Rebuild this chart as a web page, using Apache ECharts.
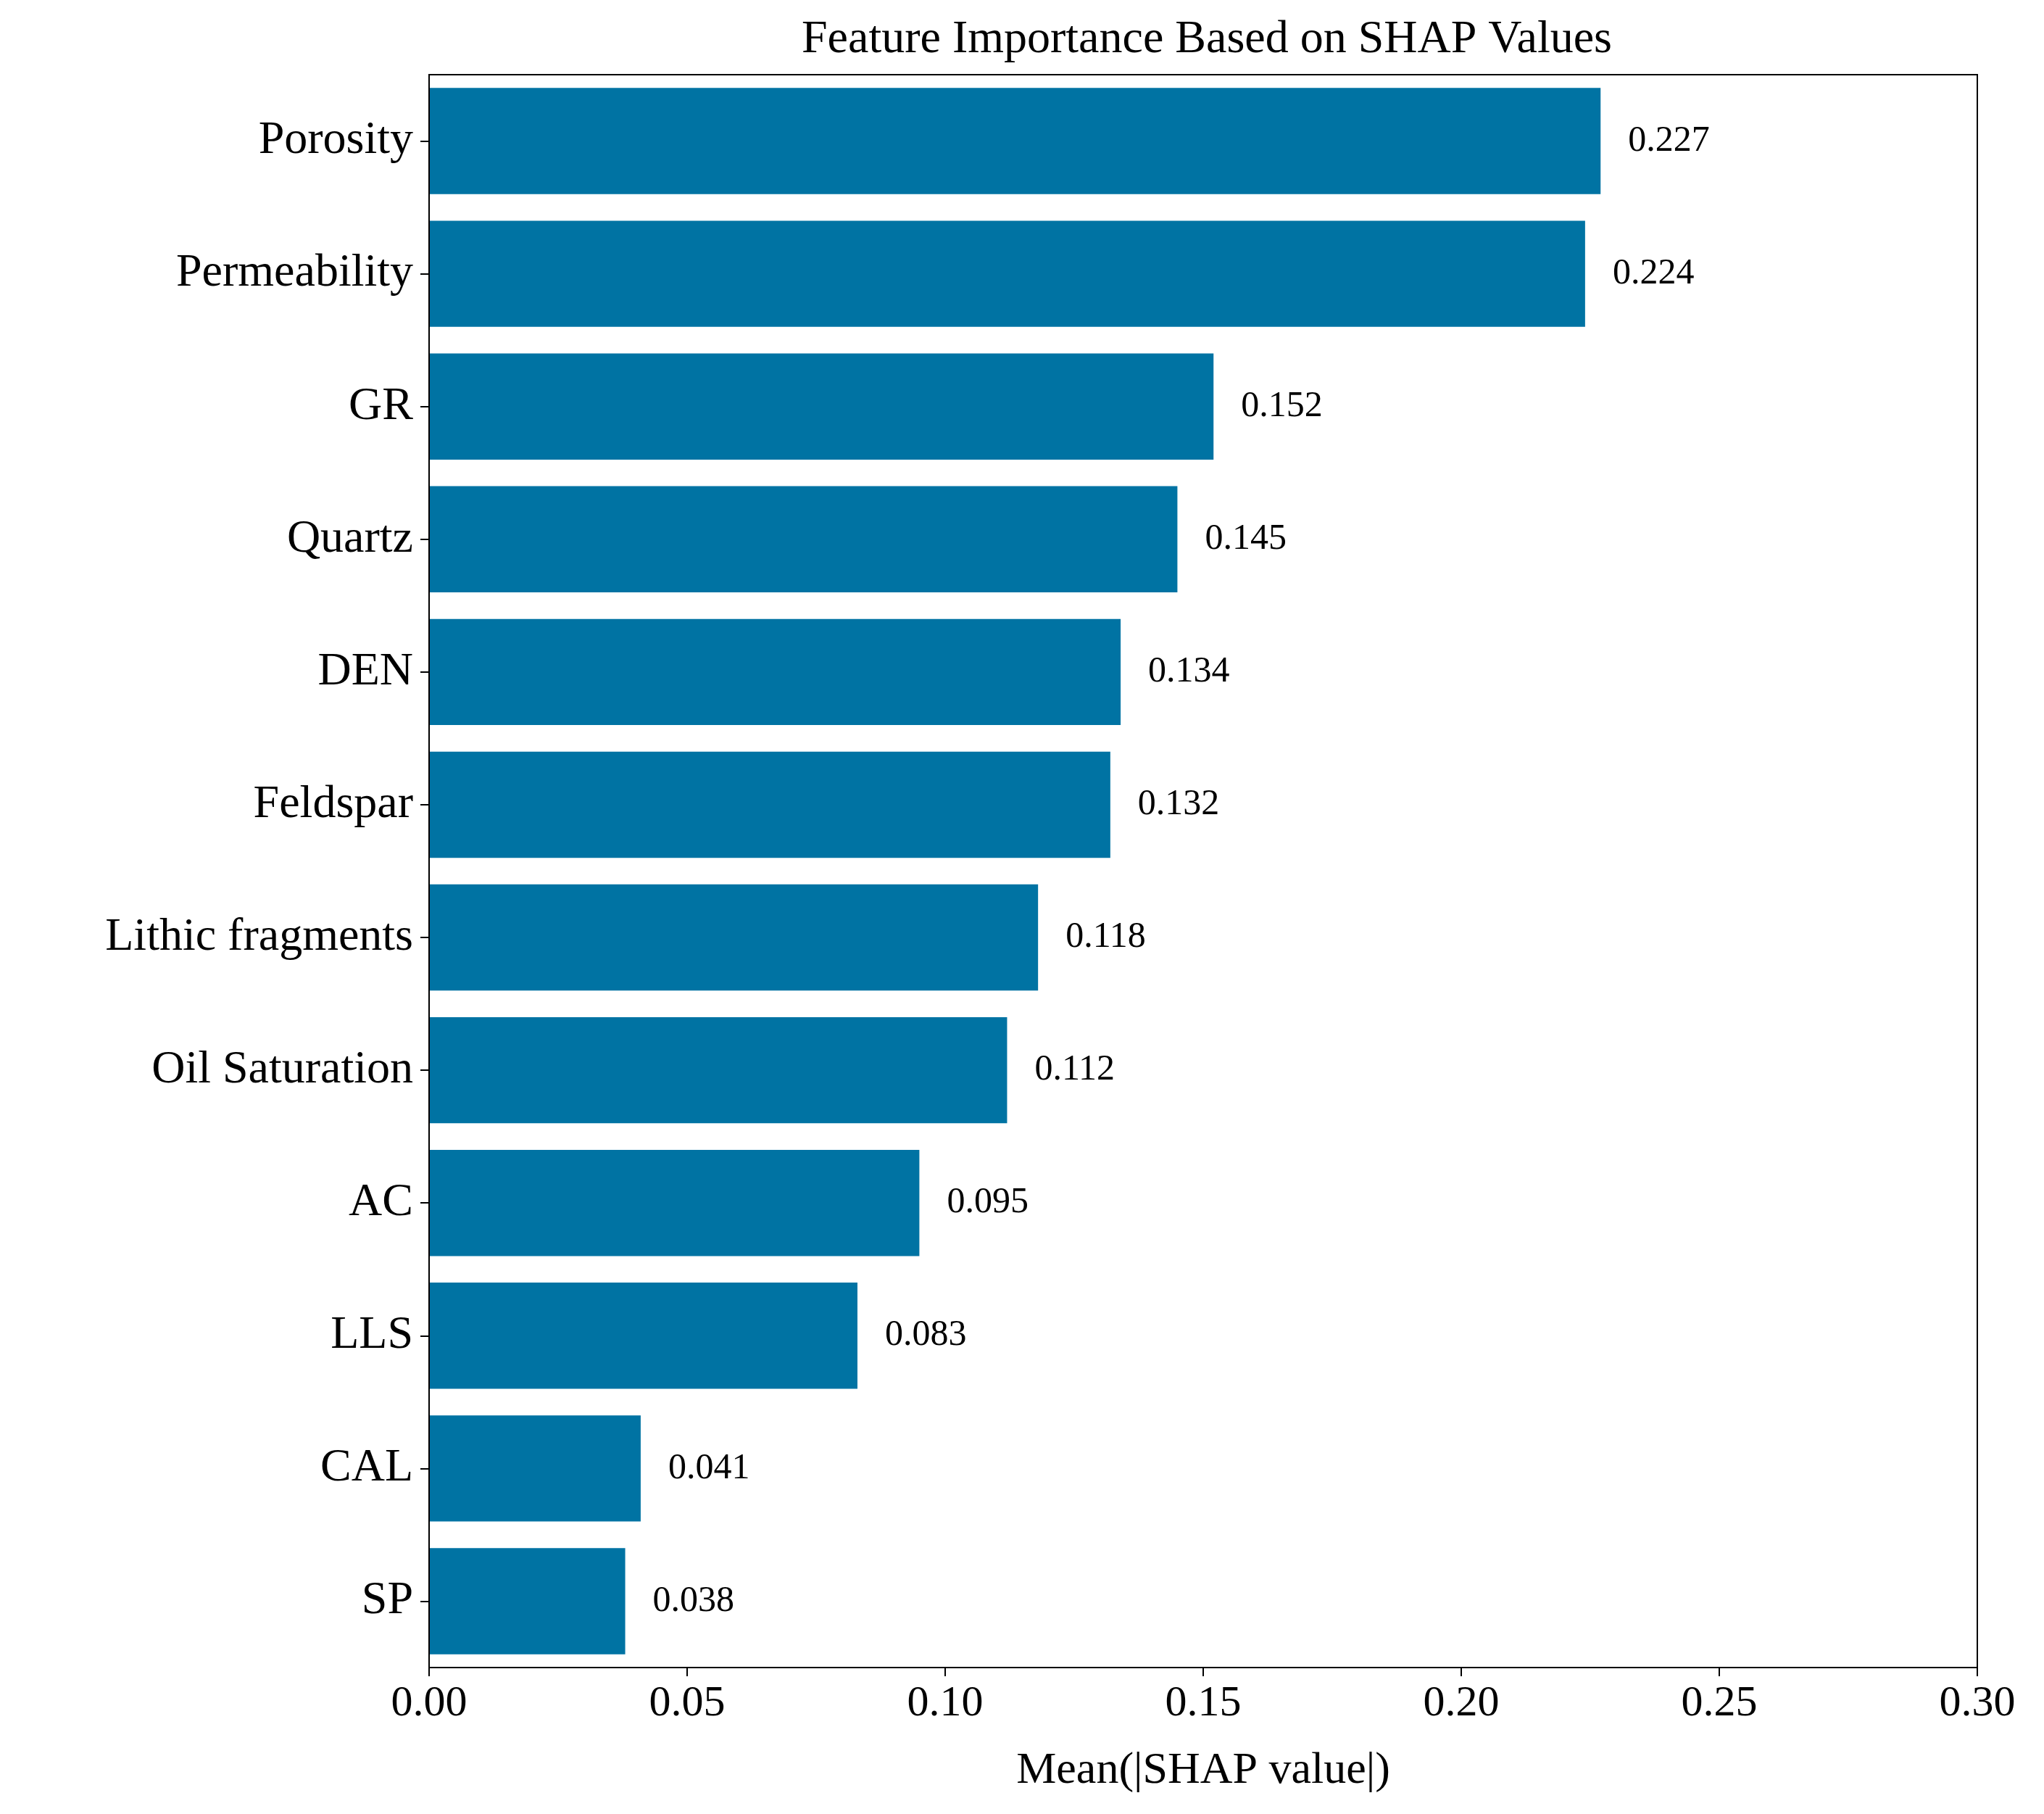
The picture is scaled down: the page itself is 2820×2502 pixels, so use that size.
<!DOCTYPE html>
<html lang="en" style="height: 100%">
<head>
<meta charset="utf-8">
<title>Feature Importance Based on SHAP Values</title>
</head>
<body style="height: 100%; margin: 0; background: #fff">
<div id="container" style="height: 100%"></div>
<script type="text/javascript" src="https://cdn.jsdelivr.net/npm/echarts/dist/echarts.min.js"></script>
<script type="text/javascript">
var features = ['Porosity', 'Permeability', 'GR', 'Quartz', 'DEN', 'Feldspar',
  'Lithic fragments', 'Oil Saturation', 'AC', 'LLS', 'CAL', 'SP'];
var shapValues = [0.227, 0.224, 0.152, 0.145, 0.134, 0.132, 0.118, 0.112, 0.095, 0.083, 0.041, 0.038];

var dom = document.getElementById('container');
var myChart = echarts.init(dom, null, { renderer: 'canvas' });
var font = 'Liberation Serif, Times New Roman, serif';

var option = {
  animation: false,
  textStyle: { fontFamily: font },
  title: {
    text: 'Feature Importance Based on SHAP Values',
    left: 1660, top: 18, textAlign: 'center',
    textStyle: { fontFamily: font, fontSize: 64, fontWeight: 'normal', color: '#000' }
  },
  grid: { left: 592, right: 92, top: 103, bottom: 202, containLabel: false },
  xAxis: {
    type: 'value', min: 0, max: 0.3, interval: 0.05,
    name: 'Mean(|SHAP value|)', nameLocation: 'middle', nameGap: 112,
    nameTextStyle: { fontFamily: font, fontSize: 62, color: '#000' },
    axisLine: { show: true, lineStyle: { color: '#000', width: 2 } },
    axisTick: { show: true, length: 12, lineStyle: { color: '#000', width: 2 } },
    axisLabel: { fontFamily: font, fontSize: 60, color: '#000', margin: 20,
      formatter: function (v) { return v.toFixed(2); } },
    splitLine: { show: false }
  },
  yAxis: {
    type: 'category', data: features, inverse: true,
    axisLine: { show: true, lineStyle: { color: '#000', width: 2 } },
    axisTick: { show: true, alignWithLabel: true, length: 12, lineStyle: { color: '#000', width: 2 } },
    axisLabel: { fontFamily: font, fontSize: 64, color: '#000', margin: 22 }
  },
  series: [{
    type: 'bar', data: shapValues, barCategoryGap: '20%',
    itemStyle: { color: '#0073A3' },
    label: { show: true, position: 'right', distance: 38, fontFamily: font,
      fontSize: 50, color: '#000', formatter: function (p) { return p.value.toFixed(3); } }
  }],
  graphic: [{
    type: 'rect', shape: { x: 592, y: 103, width: 2136, height: 2197 },
    style: { fill: 'none', stroke: '#000', lineWidth: 2 }, silent: true, z: 100
  }]
};
myChart.setOption(option);
window.addEventListener('resize', myChart.resize);
</script>
</body>
</html>
